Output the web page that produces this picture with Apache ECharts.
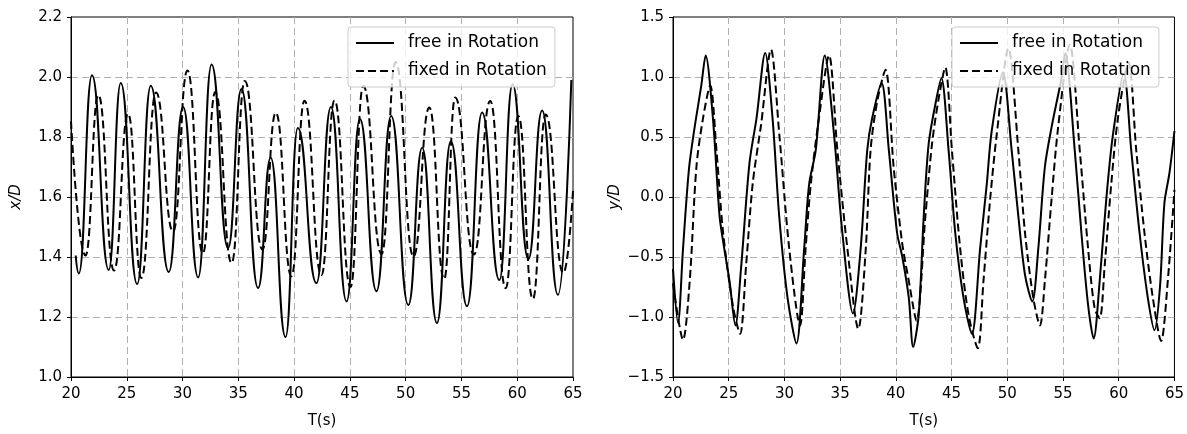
<!DOCTYPE html>
<html>
<head>
<meta charset="utf-8">
<script src="https://cdn.jsdelivr.net/npm/echarts@6/dist/echarts.min.js"></script>
<style>
  body { margin: 0; background: #fff; }
  #chart { width: 1187px; height: 434px; }
</style>
</head>
<body>
<div id="chart"></div>
<script>
// x/D, free in rotation (peaks and troughs)
var xFreeT = [20.42, 20.70, 21.88, 23.38, 24.46, 25.93, 27.15, 28.76, 30.05, 31.40, 32.60, 34.08, 35.28, 36.77, 37.90, 39.23, 40.33, 42.00, 43.30, 44.70, 45.90, 47.38, 48.70, 50.24, 51.48, 52.80, 54.05, 55.50, 56.85, 58.40, 59.58, 61.00, 62.23, 63.65, 64.85];
var xFreeV = [1.405, 1.345, 2.006, 1.357, 1.980, 1.310, 1.971, 1.350, 1.900, 1.332, 2.042, 1.430, 1.960, 1.297, 1.731, 1.133, 1.830, 1.313, 1.900, 1.252, 1.860, 1.286, 1.870, 1.240, 1.764, 1.180, 1.786, 1.236, 1.882, 1.323, 1.976, 1.393, 1.888, 1.274, 1.990];
// x/D, fixed in rotation
var xFixT = [20.00, 21.30, 22.45, 23.86, 25.12, 26.31, 27.62, 29.15, 30.44, 31.82, 32.93, 34.40, 35.58, 37.16, 38.36, 39.76, 40.93, 42.45, 43.62, 45.05, 46.20, 47.84, 49.10, 50.70, 52.12, 53.45, 54.44, 56.12, 57.58, 58.96, 60.10, 61.40, 62.55, 64.13, 65.00];
var xFixV = [1.853, 1.405, 1.940, 1.355, 1.878, 1.330, 1.948, 1.485, 2.022, 1.412, 1.950, 1.380, 1.987, 1.425, 1.881, 1.336, 1.921, 1.340, 1.922, 1.300, 1.970, 1.410, 2.050, 1.402, 1.898, 1.326, 1.932, 1.408, 1.920, 1.296, 1.870, 1.260, 1.875, 1.347, 1.620];

// y/D, free in rotation
var yFreeT = [20.00, 20.45, 20.90, 21.43, 21.94, 22.54, 22.93, 23.58, 24.18, 24.60, 25.07, 25.60, 26.10, 26.86, 27.50, 28.27, 28.93, 29.53, 30.28, 31.08, 31.77, 32.22, 32.81, 33.62, 34.45, 35.20, 36.15, 36.84, 37.43, 37.88, 38.72, 39.37, 40.11, 40.56, 41.16, 41.55, 42.05, 42.50, 42.94, 43.54, 44.08, 44.73, 45.33, 46.07, 46.82, 47.56, 48.16, 48.60, 49.60, 50.39, 50.99, 51.59, 52.24, 52.78, 53.37, 53.97, 54.86, 55.20, 56.05, 56.65, 57.25, 57.75, 58.29, 58.88, 59.48, 60.45, 61.12, 61.87, 62.61, 63.21, 63.70, 64.10, 64.55, 65.00];
var yFreeV = [-0.60, -1.05, -0.43, 0.23, 0.58, 0.93, 1.18, 0.66, -0.16, -0.43, -0.70, -1.07, -0.60, 0.28, 0.66, 1.20, 0.66, -0.16, -0.84, -1.22, -0.43, 0.11, 0.39, 1.18, 0.52, -0.30, -0.97, -0.43, 0.39, 0.66, 0.95, 0.39, -0.30, -0.49, -0.84, -1.25, -0.98, -0.16, 0.44, 0.77, 0.99, 0.39, -0.30, -0.84, -1.14, -0.43, 0.11, 0.55, 1.04, 0.39, -0.16, -0.65, -0.87, -0.43, 0.25, 0.58, 0.99, 1.20, 0.39, -0.30, -0.90, -1.18, -0.70, -0.02, 0.52, 1.03, 0.39, -0.30, -0.84, -1.11, -0.75, -0.05, 0.20, 0.55];
// y/D, fixed in rotation
var yFixT = [20.00, 20.90, 21.50, 22.10, 22.70, 23.34, 23.90, 24.50, 25.40, 26.02, 26.56, 27.15, 27.90, 28.79, 29.54, 30.43, 31.40, 31.90, 32.37, 33.10, 34.00, 34.75, 35.65, 36.63, 37.30, 37.73, 38.33, 39.07, 39.80, 40.56, 41.16, 41.85, 42.65, 43.24, 43.84, 44.43, 45.03, 45.77, 46.52, 47.35, 47.86, 48.46, 49.05, 50.10, 50.99, 51.59, 52.33, 52.93, 53.37, 53.97, 54.56, 55.61, 56.50, 57.25, 57.84, 58.29, 58.74, 59.33, 59.93, 60.88, 61.57, 62.31, 63.06, 63.80, 64.40, 65.00];
var yFixV = [-0.72, -1.19, -0.70, 0.25, 0.66, 0.93, 0.39, -0.30, -0.92, -1.14, -0.57, 0.11, 0.60, 1.23, 0.52, -0.43, -1.07, -0.43, 0.11, 0.66, 1.18, 0.39, -0.43, -1.10, -0.43, 0.39, 0.80, 1.06, 0.25, -0.38, -0.70, -1.03, -0.16, 0.44, 0.82, 1.08, 0.39, -0.43, -0.98, -1.26, -0.70, -0.02, 0.52, 1.24, 0.39, -0.30, -0.84, -1.07, -0.70, -0.02, 0.58, 1.27, 0.39, -0.43, -0.93, -1.01, -0.57, 0.11, 0.66, 1.12, 0.39, -0.30, -0.84, -1.20, -0.70, 0.06];

var seriesNames = ['free in Rotation', 'fixed in Rotation'];

function zip(t, v) {
    var out = [];
    for (var i = 0; i < t.length; i++) {
        out.push([t[i], v[i]]);
    }
    return out;
}

var font = 'DejaVu Sans';
var gridDash = { color: '#b0b0b0', type: [7, 4], width: 1 };

function xAxisFor(idx) {
    return {
        gridIndex: idx,
        type: 'value',
        min: 20,
        max: 65,
        interval: 5,
        name: 'T(s)',
        nameLocation: 'middle',
        nameGap: 37,
        nameTextStyle: { color: '#000', fontFamily: font, fontSize: 15 },
        axisLine: { show: true, onZero: false, lineStyle: { color: '#000', width: 1 } },
        axisTick: { show: true, length: 4, lineStyle: { color: '#000' } },
        axisLabel: { color: '#000', fontFamily: font, fontSize: 15, margin: 10 },
        splitLine: { show: true, showMinLine: false, showMaxLine: false, lineStyle: gridDash }
    };
}

function yAxisFor(idx, min, max, interval, name, gap, fmt) {
    return {
        gridIndex: idx,
        type: 'value',
        min: min,
        max: max,
        interval: interval,
        name: name,
        nameLocation: 'middle',
        nameGap: gap,
        nameTextStyle: { color: '#000', fontFamily: font, fontSize: 15, fontStyle: 'italic' },
        axisLine: { show: true, onZero: false, lineStyle: { color: '#000', width: 1 } },
        axisTick: { show: true, length: 4, lineStyle: { color: '#000' } },
        axisLabel: { color: '#000', fontFamily: font, fontSize: 15, margin: 9, formatter: fmt },
        splitLine: { show: true, showMinLine: false, showMaxLine: false, lineStyle: gridDash }
    };
}

function legendAt(left) {
    return {
        data: seriesNames,
        orient: 'vertical',
        left: left,
        top: 27,
        padding: [6, 8, 6, 7],
        itemWidth: 38,
        itemHeight: 14,
        itemGap: 8,
        backgroundColor: 'rgba(255,255,255,0.8)',
        borderColor: '#cccccc',
        borderWidth: 1,
        borderRadius: 3,
        itemStyle: { opacity: 0 },
        textStyle: { color: '#000', fontFamily: font, fontSize: 17, lineHeight: 20, padding: [0, 0, 0, 9] }
    };
}

function lineSeries(name, data, xi, dashed, smoothOpt) {
    var s = {
        name: name,
        type: 'line',
        xAxisIndex: xi,
        yAxisIndex: xi,
        data: data,
        symbol: 'none',
        clip: true,
        lineStyle: { color: '#000', width: 2, type: dashed ? [8, 4] : 'solid' },
        itemStyle: { color: '#000' }
    };
    s.smooth = smoothOpt.smooth;
    if (smoothOpt.monotone) s.smoothMonotone = smoothOpt.monotone;
    return s;
}

var chart = echarts.init(document.getElementById('chart'), null, { renderer: 'canvas' });

var option = {
    animation: false,
    backgroundColor: '#fff',
    textStyle: { fontFamily: font },
    grid: [
        { left: 71, top: 17, width: 502, height: 367, show: true, borderColor: '#000', borderWidth: 1, backgroundColor: 'transparent' },
        { left: 673, top: 17, width: 504, height: 367, show: true, borderColor: '#000', borderWidth: 1, backgroundColor: 'transparent' }
    ],
    legend: [legendAt(348), legendAt(952)],
    xAxis: [xAxisFor(0), xAxisFor(1)],
    yAxis: [
        yAxisFor(0, 1.0, 2.2, 0.2, 'x/D', 47, function (v) { return v.toFixed(1); }),
        yAxisFor(1, -1.5, 1.5, 0.5, 'y/D', 50, function (v) {
            return (v < 0 ? '\u2212' : '') + Math.abs(v).toFixed(1);
        })
    ],
    series: [
        lineSeries(seriesNames[0], zip(xFreeT, xFreeV), 0, false, { smooth: 0.5, monotone: 'x' }),
        lineSeries(seriesNames[1], zip(xFixT, xFixV), 0, true, { smooth: 0.5, monotone: 'x' }),
        lineSeries(seriesNames[0], zip(yFreeT, yFreeV), 1, false, { smooth: 0.3 }),
        lineSeries(seriesNames[1], zip(yFixT, yFixV), 1, true, { smooth: 0.3 })
    ]
};

chart.setOption(option);
</script>
</body>
</html>
